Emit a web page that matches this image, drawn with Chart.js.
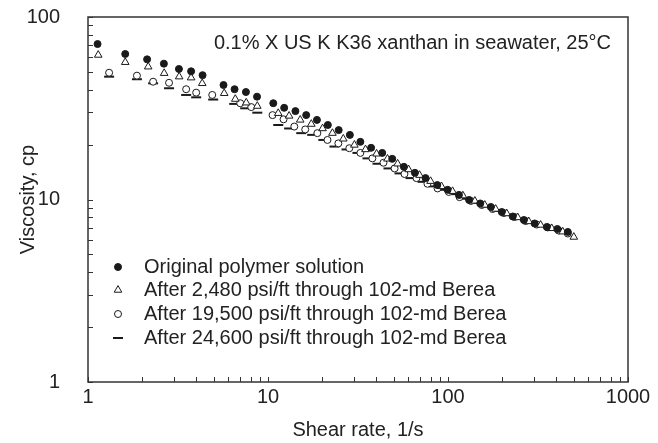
<!DOCTYPE html>
<html>
<head>
<meta charset="utf-8">
<script src="https://cdn.jsdelivr.net/npm/chart.js@4/dist/chart.umd.min.js"></script>
<style>
  html, body { margin: 0; padding: 0; background: #fff; }
</style>
</head>
<body>
<canvas id="myChart" width="658" height="443"></canvas>
<script>
// shear rate (1/s) and viscosity (cp)
var shearOriginal = [1.13, 1.61, 2.13, 2.64, 3.20, 3.74, 4.33, 5.66, 6.52, 7.54, 8.69, 10.7, 12.3, 14.2, 16.3, 18.7, 21.5, 24.7, 28.5, 32.6, 37.4, 43.1, 49.0, 56.9, 65.5, 75.0, 87.2, 99.5, 115, 131, 151, 173, 199, 229, 264, 303, 354, 405, 463];
var viscOriginal  = [71.1, 62.7, 58.6, 55.5, 51.9, 50.4, 48.0, 42.4, 40.2, 38.8, 36.6, 33.7, 31.8, 30.5, 29.0, 27.3, 25.6, 24.0, 22.6, 20.7, 19.2, 18.0, 16.7, 15.1, 14.0, 13.1, 12.0, 11.3, 10.6, 9.94, 9.51, 9.10, 8.54, 8.07, 7.72, 7.39, 7.07, 6.89, 6.64];

var shear2480 = [1.14, 1.61, 2.16, 2.65, 3.21, 3.74, 4.31, 5.71, 6.58, 7.57, 8.72, 11.4, 13.1, 15.1, 17.4, 20.1, 22.8, 26.2, 30.2, 34.8, 40.1, 46.1, 52.5, 60.4, 69.5, 80.0, 92.0, 106, 121, 141, 160, 184, 212, 244, 281, 327, 377, 434, 500];
var visc2480  = [61.9, 56.5, 53.4, 49.2, 47.1, 46.5, 43.3, 38.2, 35.5, 33.9, 32.5, 29.7, 28.7, 27.3, 25.9, 24.5, 23.1, 21.5, 19.9, 18.8, 17.8, 16.7, 15.7, 14.6, 13.6, 12.6, 11.8, 11.1, 10.5, 9.82, 9.33, 8.87, 8.38, 7.97, 7.58, 7.25, 6.95, 6.66, 6.23];

var shear19500 = [1.31, 1.87, 2.30, 2.82, 3.51, 3.99, 4.90, 7.01, 8.07, 10.6, 12.2, 14.0, 16.1, 18.8, 21.4, 24.6, 28.3, 32.6, 38.0, 43.8, 50.5, 57.3, 66.8, 76.9, 87.5, 101, 116, 134, 154, 177, 204, 234, 270, 311, 358, 412, 463];
var visc19500  = [49.5, 47.7, 44.2, 43.6, 40.2, 38.5, 37.4, 33.7, 32.1, 29.0, 27.5, 25.1, 24.2, 23.1, 21.2, 20.3, 19.1, 18.0, 16.8, 15.9, 14.8, 13.8, 13.1, 12.2, 11.5, 11.0, 10.3, 9.82, 9.33, 8.87, 8.43, 8.02, 7.62, 7.29, 7.03, 6.76, 6.51];

var shear24600 = [1.31, 1.87, 2.30, 2.82, 3.51, 3.99, 4.96, 6.49, 7.47, 8.72, 11.4, 13.1, 15.3, 17.6, 20.3, 23.4, 27.3, 31.4, 35.7, 40.6, 46.7, 53.8, 61.9, 72.2, 83.2, 95.7, 110, 127, 146, 168, 194, 223, 257, 296, 340, 392, 451];
var visc24600  = [47.1, 45.6, 43.3, 40.7, 37.4, 36.3, 35.3, 33.4, 31.6, 29.9, 25.6, 24.5, 23.1, 22.6, 21.2, 19.5, 18.8, 18.0, 16.8, 15.7, 14.8, 13.9, 13.1, 12.5, 11.8, 11.3, 10.7, 10.1, 9.57, 9.16, 8.65, 8.22, 7.82, 7.48, 7.16, 6.89, 6.64];

var serieNames = [
  'Original polymer solution',
  'After 2,480 psi/ft through 102-md Berea',
  'After 19,500 psi/ft through 102-md Berea',
  'After 24,600 psi/ft through 102-md Berea'
];
var xTickLabels = [1, 10, 100, 1000];
var yTickLabels = [1, 10, 100];
var notaTexto = '0.1% X US K K36 xanthan in seawater, 25°C';

var FUENTE = '"Liberation Sans", Arial, sans-serif';
var TINTA = '#222';

function puntos(xs, ys) {
  var r = [];
  for (var i = 0; i < xs.length; i++) r.push({x: xs[i], y: ys[i]});
  return r;
}

// minor ticks 1..9 per decade
function ticksLog(mayores) {
  var t = [];
  for (var i = 0; i < mayores.length - 1; i++) {
    for (var k = 1; k < 10; k++) t.push(k * mayores[i]);
  }
  t.push(mayores[mayores.length - 1]);
  return t;
}
var xTicks = ticksLog(xTickLabels);
var yTicks = ticksLog(yTickLabels);

var marco = {
  id: 'marco',
  afterDraw: function(chart) {
    var ctx = chart.ctx, a = chart.chartArea;
    var sx = chart.scales.x, sy = chart.scales.y;
    ctx.save();
    ctx.strokeStyle = '#333';
    ctx.lineWidth = 1.5;
    ctx.strokeRect(a.left, a.top, a.right - a.left, a.bottom - a.top);

    ctx.lineWidth = 1;
    ctx.beginPath();
    sx.ticks.forEach(function(t) {
      var px = Math.round(sx.getPixelForValue(t.value)) + 0.5;
      ctx.moveTo(px, a.bottom);
      ctx.lineTo(px, a.bottom - 5);
    });
    sy.ticks.forEach(function(t) {
      var py = Math.round(sy.getPixelForValue(t.value)) + 0.5;
      ctx.moveTo(a.left, py);
      ctx.lineTo(a.left + 5, py);
    });
    ctx.stroke();

    // legend inside plot
    ctx.font = '20px ' + FUENTE;
    ctx.textBaseline = 'middle';
    ctx.textAlign = 'left';
    var filas = [267, 290, 314, 338];
    chart.data.datasets.forEach(function(ds, i) {
      var mx = 118, my = filas[i];
      ctx.fillStyle = ds.backgroundColor;
      ctx.strokeStyle = ds.borderColor;
      ctx.lineWidth = ds.borderWidth;
      Chart.helpers.drawPoint(ctx, {pointStyle: ds.pointStyle, radius: ds.pointRadius, borderWidth: ds.borderWidth, rotation: 0}, mx, my);
      ctx.fillStyle = TINTA;
      ctx.fillText(ds.label, 144, my);
    });

    ctx.textAlign = 'right';
    ctx.fillText(notaTexto, 611, 43);
    ctx.restore();
  }
};

const ctx = document.getElementById('myChart');
new Chart(ctx, {
  type: 'scatter',
  data: {
    datasets: [{
      label: serieNames[0],
      data: puntos(shearOriginal, viscOriginal),
      pointStyle: 'circle',
      pointRadius: 3.5,
      backgroundColor: '#1a1a1a',
      borderColor: '#1a1a1a',
      borderWidth: 1
    }, {
      label: serieNames[1],
      data: puntos(shear2480, visc2480),
      pointStyle: 'triangle',
      pointRadius: 4.4,
      backgroundColor: '#fff',
      borderColor: '#1a1a1a',
      borderWidth: 1
    }, {
      label: serieNames[2],
      data: puntos(shear19500, visc19500),
      pointStyle: 'circle',
      pointRadius: 3.5,
      backgroundColor: '#fff',
      borderColor: '#1a1a1a',
      borderWidth: 1
    }, {
      label: serieNames[3],
      data: puntos(shear24600, visc24600),
      pointStyle: 'line',
      pointRadius: 5,
      backgroundColor: '#1a1a1a',
      borderColor: '#1a1a1a',
      borderWidth: 2
    }]
  },
  options: {
    responsive: false,
    devicePixelRatio: 1,
    animation: false,
    layout: { padding: { left: 0, top: 17, right: 30, bottom: 0 } },
    plugins: { legend: { display: false }, tooltip: { enabled: false } },
    scales: {
      x: {
        type: 'logarithmic',
        position: 'bottom',
        min: 1,
        max: 1000,
        grid: { display: false, drawTicks: false },
        border: { display: false },
        afterBuildTicks: function(s) { s.ticks = xTicks.map(function(v) { return {value: v}; }); },
        afterFit: function(s) { s.height = 61; s.paddingLeft = 0; s.paddingRight = 0; },
        ticks: {
          autoSkip: false,
          maxRotation: 0,
          padding: 3,
          color: TINTA,
          font: { family: FUENTE, size: 20 },
          callback: function(v) { return xTickLabels.indexOf(v) >= 0 ? String(v) : ''; }
        },
        title: { display: true, text: 'Shear rate, 1/s', color: TINTA, font: { family: FUENTE, size: 20 }, padding: { top: 0, bottom: 1 } }
      },
      y: {
        type: 'logarithmic',
        position: 'left',
        min: 1,
        max: 100,
        grid: { display: false, drawTicks: false },
        border: { display: false },
        afterBuildTicks: function(s) { s.ticks = yTicks.map(function(v) { return {value: v}; }); },
        afterFit: function(s) { s.width = 88; s.paddingTop = 0; s.paddingBottom = 0; },
        ticks: {
          autoSkip: false,
          padding: 28,
          color: TINTA,
          font: { family: FUENTE, size: 20 },
          callback: function(v) { return yTickLabels.indexOf(v) >= 0 ? String(v) : ''; }
        },
        title: { display: true, text: 'Viscosity, cp', color: TINTA, font: { family: FUENTE, size: 20 }, padding: { top: 16, bottom: 0 } }
      }
    }
  },
  plugins: [marco]
});
</script>
</body>
</html>
